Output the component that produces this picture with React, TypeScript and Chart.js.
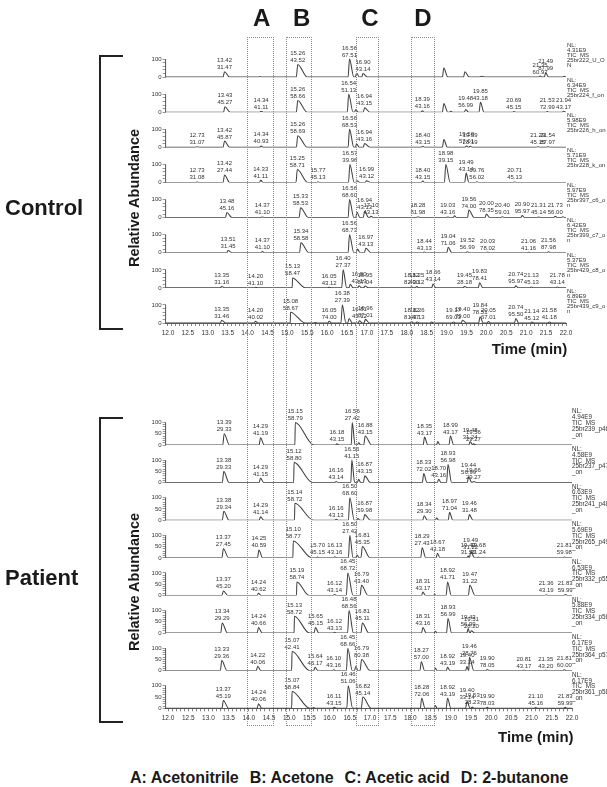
import React, { useEffect, useRef } from 'react';
import { Chart, registerables } from 'chart.js';

Chart.register(...registerables);

const FAMILY = '"Liberation Sans", Arial, Helvetica, sans-serif';

// Peak = [retention time (min), relative height (%), base-peak m/z label or null, tail width (min), rise width (min)]
type Peak = [number, number, string | null, number?, number?];

const X_MIN = 11.94;
const X_MAX = 22.0;

// ---------- Control traces ----------
const c1: Peak[] = [
  [13.42, 30, '31.47', 0.13], [14.3, 3, null, 0.05], [15.26, 70, '43.52', 0.24],
  [16.56, 100, '67.51', 0.11], [16.74, 22, null, 0.07], [16.9, 20, '43.14', 0.11],
  [18.93, 50, null, 0.1], [19.46, 30, null, 0.11], [19.87, 5, null, 0.12],
  [21.35, 6, '60.97', 0.05], [21.49, 25, '87.99', 0.07], [21.95, 5, null, 0.05],
];
const c2: Peak[] = [
  [13.43, 30, '45.27', 0.13], [14.34, 6, '41.11', 0.05], [15.26, 65, '58.66', 0.24],
  [16.54, 100, '51.13', 0.11], [16.72, 15, null, 0.06], [16.94, 25, '43.15', 0.13],
  [18.39, 8, '43.16', 0.05], [18.93, 48, null, 0.1], [19.1, 5, null, 0.05],
  [19.48, 15, '56.99', 0.07], [19.85, 55, '43.18', 0.09], [20.69, 4, '45.15', 0.05],
  [21.53, 4, '72.99', 0.05], [21.94, 6, '43.17', 0.05],
];
const c3: Peak[] = [
  [12.73, 3, '31.07', 0.05], [13.42, 35, '45.87', 0.13], [14.34, 8, '40.93', 0.05],
  [15.26, 65, '58.69', 0.24], [16.56, 100, '68.53', 0.11], [16.74, 18, null, 0.07],
  [16.94, 22, '43.16', 0.13], [18.4, 6, '43.15', 0.05], [18.93, 43, null, 0.09],
  [19.5, 8, '57.01', 0.05], [19.59, 6, '28.19', 0.06], [21.29, 3, '45.15', 0.05],
  [21.54, 4, '87.97', 0.05],
];
const c4: Peak[] = [
  [12.73, 3, '31.08', 0.05], [13.42, 42, '27.44', 0.13], [14.33, 12, '41.11', 0.06],
  [15.25, 72, '58.71', 0.26], [15.77, 3, '45.13', 0.05], [16.57, 100, '39.96', 0.11],
  [16.75, 10, null, 0.07], [16.99, 10, '43.12', 0.1], [18.4, 8, '43.15', 0.05],
  [18.98, 100, '39.15', 0.11], [19.49, 52, '43.14', 0.07], [19.76, 4, '56.02', 0.05],
  [20.71, 3, '45.13', 0.05],
];
const c5: Peak[] = [
  [13.48, 28, '45.16', 0.13], [14.37, 4, '41.10', 0.05], [15.33, 55, '58.53', 0.2],
  [16.56, 100, '68.60', 0.11], [16.75, 30, null, 0.07], [16.94, 35, '43.13', 0.1],
  [17.1, 8, '43.13', 0.06], [18.28, 5, '81.98', 0.05], [19.03, 4, '43.16', 0.05],
  [19.2, 10, null, 0.05], [19.56, 42, '74.00', 0.13], [20.0, 20, '78.35', 0.08],
  [20.4, 5, '59.01', 0.05], [20.9, 12, '95.97', 0.06], [21.31, 4, '45.14', 0.05],
  [21.73, 8, '56.00', 0.05], [21.92, 5, null, 0.05],
];
const c6: Peak[] = [
  [13.51, 12, '31.45', 0.1], [14.37, 7, '41.10', 0.05], [15.34, 55, '58.58', 0.2],
  [16.56, 100, '68.73', 0.11], [16.76, 20, null, 0.07], [16.97, 25, '43.13', 0.13],
  [18.44, 4, '43.13', 0.05], [19.04, 30, '71.06', 0.09], [19.52, 6, '56.99', 0.05],
  [20.03, 4, '78.02', 0.05], [21.06, 3, '41.16', 0.05], [21.56, 6, '87.98', 0.05],
];
const c7: Peak[] = [
  [13.35, 8, '31.16', 0.08], [14.2, 3, '41.10', 0.05], [15.13, 55, '58.47', 0.32, 0.01],
  [16.05, 4, '43.12', 0.05], [16.4, 100, '27.37', 0.09], [16.58, 20, null, 0.07],
  [16.8, 12, '43.13', 0.06], [16.95, 10, '87.04', 0.08], [18.12, 6, '82.00', 0.05],
  [18.25, 8, '43.12', 0.05], [18.66, 22, '43.14', 0.07], [19.45, 8, '28.18', 0.08],
  [19.83, 28, '78.41', 0.08], [20.74, 12, '95.97', 0.06], [21.13, 5, '45.13', 0.05],
  [21.78, 5, '43.14', 0.05],
];
const c8: Peak[] = [
  [13.35, 15, '31.46', 0.1], [14.2, 10, '40.02', 0.06], [15.08, 60, '58.67', 0.37, 0.01],
  [15.7, 3, null, 0.05], [16.05, 10, '74.00', 0.06], [16.38, 100, '27.39', 0.09],
  [16.55, 25, null, 0.08], [16.81, 12, '43.12', 0.07], [16.96, 20, '87.01', 0.1],
  [18.12, 8, '81.47', 0.05], [18.26, 6, '43.13', 0.05], [18.62, 5, null, 0.05],
  [19.17, 6, '69.03', 0.05], [19.4, 15, '79.00', 0.1], [19.84, 35, '78.51', 0.08],
  [20.05, 8, '67.01', 0.06], [20.74, 25, '95.50', 0.07], [21.14, 5, '45.12', 0.05],
  [21.58, 6, '41.18', 0.05],
];

// ---------- Patient traces ----------
const p1: Peak[] = [
  [13.39, 50, '29.33', 0.13], [14.29, 32, '41.19', 0.09], [15.15, 100, '58.79', 0.46, 0.01],
  [16.18, 5, '43.15', 0.05], [16.56, 100, '27.42', 0.07, 0.025], [16.72, 10, null, 0.05],
  [16.88, 40, '43.15', 0.16], [18.35, 35, '43.17', 0.08], [18.68, 15, null, 0.05],
  [18.99, 40, '43.17', 0.08], [19.48, 15, '31.24', 0.06], [19.56, 5, '29.27', 0.08],
];
const p2: Peak[] = [
  [13.38, 50, '29.33', 0.13], [14.29, 20, '41.15', 0.08], [15.12, 90, '58.80', 0.46, 0.01],
  [16.16, 5, '43.14', 0.05], [16.55, 100, '41.15', 0.07, 0.025], [16.72, 15, null, 0.05],
  [16.87, 30, '43.15', 0.14], [18.33, 40, '72.02', 0.08], [18.7, 15, '43.16', 0.06],
  [18.93, 80, '56.98', 0.09], [19.44, 25, '56.99', 0.08], [19.56, 5, '29.27', 0.08],
];
const p3: Peak[] = [
  [13.38, 40, '29.34', 0.13], [14.29, 15, '41.14', 0.08], [15.14, 75, '58.72', 0.46, 0.01],
  [16.16, 4, '43.13', 0.05], [16.5, 100, '68.60', 0.11], [16.7, 8, null, 0.05],
  [16.87, 25, '59.98', 0.14], [18.34, 20, '29.30', 0.08], [18.65, 10, null, 0.05],
  [18.97, 35, '71.04', 0.08], [19.46, 25, '31.48', 0.09],
];
const p4: Peak[] = [
  [13.37, 40, '27.45', 0.13], [14.25, 35, '40.59', 0.09], [15.1, 75, '58.77', 0.46, 0.01],
  [15.7, 4, '45.15', 0.05], [16.13, 5, '43.16', 0.05], [16.5, 100, '27.42', 0.08],
  [16.68, 12, null, 0.05], [16.81, 50, '45.35', 0.19], [18.29, 45, '27.43', 0.09],
  [18.67, 20, '43.18', 0.06], [19.43, 8, '31.50', 0.03], [19.49, 28, '31.22', 0.1],
  [19.68, 4, '31.24', 0.05], [21.81, 4, '59.98', 0.05],
];
const p5: Peak[] = [
  [13.37, 20, '45.20', 0.11], [14.24, 10, '40.62', 0.06], [15.19, 60, '58.74', 0.3, 0.01],
  [16.12, 4, '43.14', 0.05], [16.45, 100, '68.72', 0.13], [16.79, 45, '43.40', 0.16],
  [18.31, 15, '43.17', 0.06], [18.6, 4, null, 0.04], [18.92, 60, '41.71', 0.09],
  [19.47, 45, '31.22', 0.13], [21.36, 3, '43.19', 0.05], [21.83, 4, '59.99', 0.05],
];
const p6: Peak[] = [
  [13.34, 45, '29.29', 0.13], [14.24, 25, '40.66', 0.09], [15.13, 75, '58.72', 0.37, 0.01],
  [15.65, 25, '45.15', 0.08], [16.12, 4, '43.13', 0.05], [16.48, 100, '68.56', 0.11],
  [16.81, 45, '45.11', 0.16], [18.31, 25, '43.16', 0.08], [18.62, 8, null, 0.04],
  [18.93, 65, '56.99', 0.09], [19.43, 20, '56.99', 0.04], [19.51, 10, '28.20', 0.08],
];
const p7: Peak[] = [
  [13.33, 45, '29.36', 0.13], [14.22, 20, '40.06', 0.08], [15.07, 85, '42.41', 0.44, 0.01],
  [15.64, 15, '45.17', 0.07], [16.1, 4, '43.16', 0.05], [16.45, 100, '68.66', 0.11],
  [16.65, 20, null, 0.05], [16.79, 50, '80.38', 0.21], [18.27, 40, '57.00', 0.08],
  [18.62, 12, null, 0.04], [18.92, 15, '43.19', 0.06], [19.4, 18, '33.14', 0.04],
  [19.46, 60, '28.76', 0.11, 0.015], [19.9, 5, '78.05', 0.06], [20.81, 3, '43.17', 0.05],
  [21.35, 3, '43.20', 0.05], [21.81, 4, '60.00', 0.05],
];
const p8: Peak[] = [
  [13.37, 35, '45.19', 0.13], [14.24, 20, '40.06', 0.08], [15.07, 75, '58.84', 0.44, 0.01],
  [15.6, 3, null, 0.05], [16.11, 5, '43.15', 0.05], [16.46, 100, '51.06', 0.11],
  [16.82, 50, '45.14', 0.21], [18.28, 45, '72.06', 0.08], [18.62, 12, null, 0.04],
  [18.92, 45, '43.19', 0.08], [19.4, 30, '33.14', 0.08], [19.53, 6, '28.23', 0.05],
  [19.9, 4, '78.03', 0.05], [21.1, 3, '45.16', 0.05], [21.83, 4, '59.99', 0.05],
];

const controlTraces = [c1, c2, c3, c4, c5, c6, c7, c8];
const patientTraces = [p1, p2, p3, p4, p5, p6, p7, p8];

const controlNL = ['4.31E9', '6.34E9', '5.98E9', '5.71E9', '5.97E9', '6.42E9', '5.37E9', '6.89E9'];
const controlFiles = ['25br222_U_O|N', '25br224_f_on', '25br226_h_on', '25br228_k_on', '25br397_c6_o|n', '25br399_c7_o|n', '25br429_c8_o|n', '25br439_c9_o|n'];
const patientNL = ['4.94E9', '4.58E9', '6.63E9', '5.69E9', '6.53E9', '5.88E9', '6.17E9', '6.17E9'];
const patientFiles = ['25br239_p46|_on', '25br237_p47|_on', '25br241_p48|_on', '25br265_p49|_on', '25br332_p55|_on', '25br334_p56|_on', '25br364_p57|_on', '25br361_p58|_on'];

const controlYTicks = [0, 100];
const patientYTicks = [0, 50, 100];

const compounds = ['A: Acetonitrile', 'B: Acetone', 'C: Acetic acid', 'D: 2-butanone'];
const boxLetters = ['A', 'B', 'C', 'D'];

function buildPoints(peaks: Peak[]) {
  const pts: { x: number; y: number }[] = [{ x: X_MIN, y: 0 }];
  let lastX = X_MIN;
  const sorted = [...peaks].sort((a, b) => a[0] - b[0]);
  for (const pk of sorted) {
    const rt = pk[0];
    const h = pk[1];
    const fall = pk[3] ?? 0.08;
    const rise = pk[4] ?? 0.035;
    if (rt - 0.003 <= lastX) {
      pts.pop();
    } else {
      const s = Math.max(rt - rise, lastX + 0.003);
      if (s < rt) pts.push({ x: s, y: 0 });
    }
    pts.push({ x: rt, y: h });
    pts.push({ x: rt + fall, y: 0 });
    lastX = rt + fall;
  }
  pts.push({ x: X_MAX, y: 0 });
  return pts;
}

type PanelProps = {
  traces: Peak[][];
  nls: string[];
  files: string[];
  yMax: number;
  yStep: number;
  yLabels: number[];
  top: number;
  height: number;
  padTop: number;
  padBottom: number;
  padRight: number;
  nlX: number;
  nlGap: number;
  nlOff: number;
  nlFont: number;
};

function Panel(props: PanelProps) {
  const ref = useRef<HTMLCanvasElement>(null);
  useEffect(() => {
    if (!ref.current) return;
    const { traces, nls, files, yMax, yStep, yLabels, padTop, padBottom, padRight, nlX, nlGap, nlOff, nlFont } = props;
    const scales: any = {
      x: {
        type: 'linear',
        position: 'bottom',
        min: X_MIN,
        max: X_MAX,
        afterFit: (s: any) => { s.height = 16; },
        ticks: {
          stepSize: 0.1,
          autoSkip: false,
          maxRotation: 0,
          includeBounds: false,
          maxTicksLimit: 1000,
          padding: 3,
          color: '#333',
          font: { size: 6.5, family: FAMILY },
          callback: (v: any) => (Math.abs(v * 2 - Math.round(v * 2)) < 1e-6 ? Number(v).toFixed(1) : ''),
        },
        grid: { display: true, drawOnChartArea: false, drawTicks: true, tickLength: 3, color: '#555', tickWidth: 0.7 },
        border: { display: true, color: '#555', width: 1 },
      },
    };
    traces.forEach((_, i) => {
      scales['y' + i] = {
        type: 'linear',
        position: 'left',
        stack: 'traces',
        stackWeight: 1,
        weight: 20 - i,
        min: 0,
        max: yMax,
        afterFit: (s: any) => { s.width = 30; },
        afterBuildTicks: (s: any) => { s.ticks = s.ticks.filter((t: any) => t.value <= 100 + 1e-6); },
        ticks: {
          stepSize: yStep,
          autoSkip: false,
          maxTicksLimit: 1000,
          padding: 1,
          color: '#333',
          font: { size: 6, family: FAMILY },
          callback: (v: any) => (yLabels.includes(Number(v)) ? String(v) : ''),
        },
        grid: { display: true, drawOnChartArea: false, drawTicks: true, tickLength: 3, color: '#555', tickWidth: 0.6 },
        border: { display: false },
      };
    });

    const overlay = {
      id: 'overlay',
      afterDatasetsDraw(chart: any) {
        const ctx = chart.ctx;
        const xs = chart.scales.x;
        const left = chart.chartArea.left;
        ctx.save();
        traces.forEach((peaks, i) => {
          const ys = chart.scales['y' + i];
          ctx.strokeStyle = '#555';
          ctx.lineWidth = 1;
          ctx.beginPath();
          ctx.moveTo(left, ys.getPixelForValue(0));
          ctx.lineTo(left, ys.getPixelForValue(100));
          ctx.stroke();

          ctx.fillStyle = '#333';
          ctx.font = `6px ${FAMILY}`;
          ctx.textAlign = 'center';
          ctx.textBaseline = 'alphabetic';
          for (const p of peaks) {
            if (!p[2]) continue;
            const px = xs.getPixelForValue(p[0]);
            const py = ys.getPixelForValue(p[1]);
            ctx.fillText(p[0].toFixed(2), px, py - 9.5);
            ctx.fillText(p[2], px, py - 2.5);
          }

          const lines = ['NL:', nls[i], 'TIC  MS', ...files[i].split('|')];
          ctx.textAlign = 'left';
          ctx.textBaseline = 'middle';
          ctx.font = `${nlFont}px ${FAMILY}`;
          lines.forEach((t, k) => ctx.fillText(t, nlX, ys.top + nlOff + k * nlGap));
        });
        ctx.restore();
      },
    };

    const chart = new Chart(ref.current, {
      type: 'line',
      data: {
        datasets: traces.map((peaks, i) => ({
          data: buildPoints(peaks),
          yAxisID: 'y' + i,
          xAxisID: 'x',
          borderColor: '#404040',
          borderWidth: 1.05,
          pointRadius: 0,
          fill: false,
          cubicInterpolationMode: 'monotone',
        })),
      },
      options: {
        responsive: false,
        animation: false,
        events: [],
        layout: { padding: { left: 135.6, right: padRight, top: padTop, bottom: padBottom } },
        plugins: { legend: { display: false }, tooltip: { enabled: false }, title: { display: false } },
        scales,
      },
      plugins: [overlay],
    } as any);
    return () => chart.destroy();
  }, []);
  return (
    <canvas
      ref={ref}
      width={607}
      height={props.height}
      style={{ position: 'absolute', left: 0, top: props.top, width: 607, height: props.height }}
    />
  );
}

const boxStyle = (l: number, r: number): React.CSSProperties => ({
  position: 'absolute', left: l, top: 36.7, width: r - l, height: 726 - 36.7,
  border: '1px dotted #8a8a8a', boxSizing: 'border-box', pointerEvents: 'none',
});

export default function App() {
  const boxes = [[247, 274], [285.7, 312], [355.7, 378.7], [411, 434.7]];
  const letterX = [261.7, 301.7, 370, 423];
  const bold: React.CSSProperties = { position: 'absolute', fontWeight: 'bold', whiteSpace: 'nowrap', color: '#1a1a1a' };
  return (
    <div style={{ position: 'absolute', left: 0, top: 0, width: 607, height: 787, overflow: 'hidden', background: '#fff', fontFamily: FAMILY }}>
      <Panel traces={controlTraces} nls={controlNL} files={controlFiles} yMax={195} yStep={20} yLabels={controlYTicks}
        top={0} height={345} padTop={42} padBottom={6} padRight={41} nlX={567} nlGap={5} nlOff={3} nlFont={6} />
      <Panel traces={patientTraces} nls={patientNL} files={patientFiles} yMax={167} yStep={10} yLabels={patientYTicks}
        top={380} height={350} padTop={27.4} padBottom={5.7} padRight={35} nlX={572} nlGap={5.8} nlOff={4.3} nlFont={6.3} />

      {boxes.map((b, i) => <div key={'b' + i} style={boxStyle(b[0], b[1])} />)}
      {boxLetters.map((l, i) => (
        <div key={'l' + i} style={{ ...bold, left: letterX[i] - 20, width: 40, top: 6.3, textAlign: 'center', fontSize: 24, lineHeight: '24px' }}>{l}</div>
      ))}

      <div style={{ ...bold, left: 5, top: 197, fontSize: 22, lineHeight: '22px' }}>Control</div>
      <div style={{ ...bold, left: 5, top: 567, fontSize: 22, lineHeight: '22px' }}>Patient</div>

      <div style={{ ...bold, left: 133.5, top: 197.5, fontSize: 14.5, lineHeight: '15px', transform: 'translate(-50%, -50%) rotate(-90deg)' }}>Relative Abundance</div>
      <div style={{ ...bold, left: 133.5, top: 582, fontSize: 14.5, lineHeight: '15px', transform: 'translate(-50%, -50%) rotate(-90deg)' }}>Relative Abundance</div>

      <div style={{ position: 'absolute', left: 98.75, top: 54.75, width: 24, height: 275.5, borderLeft: '2.5px solid #222', borderTop: '2.5px solid #222', borderBottom: '2.5px solid #222', boxSizing: 'border-box' }} />
      <div style={{ position: 'absolute', left: 98.75, top: 416.75, width: 24, height: 306.5, borderLeft: '2.5px solid #222', borderTop: '2.5px solid #222', borderBottom: '2.5px solid #222', boxSizing: 'border-box' }} />

      <div style={{ ...bold, left: 491.7, top: 340.5, fontSize: 15, lineHeight: '15px' }}>Time (min)</div>
      <div style={{ ...bold, left: 498, top: 728.5, fontSize: 15, lineHeight: '15px' }}>Time (min)</div>

      <div style={{ ...bold, left: 130, top: 768.5, fontSize: 16, lineHeight: '17px' }}>
        {compounds.map((c, i) => (
          <span key={'c' + i} style={{ marginRight: i < compounds.length - 1 ? 11 : 0 }}>{c}</span>
        ))}
      </div>
    </div>
  );
}
